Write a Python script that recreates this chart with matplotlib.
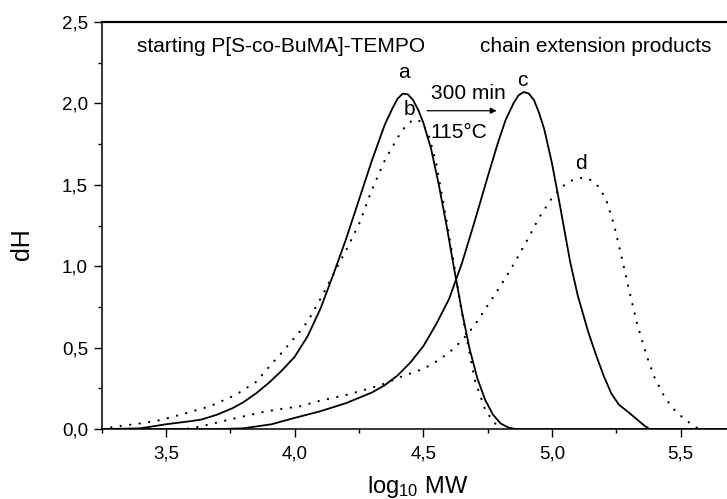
import matplotlib
matplotlib.use("Agg")
import matplotlib.pyplot as plt
from matplotlib.ticker import MultipleLocator, FuncFormatter

plt.rcParams['font.family'] = ['Liberation Sans', 'DejaVu Sans']
plt.rcParams['mathtext.default'] = 'regular'

# curve a: starting P[S-co-BuMA]-TEMPO (solid)
a_x = [3.25, 3.40, 3.50, 3.60, 3.64, 3.70, 3.76, 3.80, 3.85, 3.90, 3.95, 4.00, 4.05,
       4.10, 4.15, 4.20, 4.25, 4.30, 4.35, 4.38, 4.40, 4.42, 4.44, 4.46, 4.48, 4.50,
       4.53, 4.56, 4.59, 4.62, 4.65, 4.68, 4.71, 4.74, 4.77, 4.80, 4.83, 4.86, 5.68]
a_y = [0.0, 0.005, 0.03, 0.05, 0.06, 0.09, 0.13, 0.165, 0.22, 0.285, 0.36, 0.445, 0.57,
       0.74, 0.95, 1.17, 1.41, 1.65, 1.87, 1.97, 2.03, 2.06, 2.055, 2.02, 1.96, 1.88,
       1.72, 1.50, 1.25, 0.98, 0.72, 0.49, 0.31, 0.18, 0.09, 0.035, 0.01, 0.0, 0.0]

# curve b: starting polymer, second trace (dotted)
b_x = [3.25, 3.30, 3.40, 3.475, 3.56, 3.67, 3.77, 3.85, 3.91, 3.95, 4.02, 4.05, 4.10,
       4.15, 4.20, 4.25, 4.30, 4.35, 4.40, 4.43, 4.46, 4.49, 4.52, 4.55, 4.59, 4.62,
       4.65, 4.70, 4.74, 4.77, 4.80]
b_y = [0.0, 0.015, 0.035, 0.055, 0.09, 0.14, 0.21, 0.29, 0.40, 0.47, 0.60, 0.66, 0.80,
       0.95, 1.10, 1.26, 1.47, 1.65, 1.79, 1.86, 1.90, 1.89, 1.81, 1.63, 1.28, 1.00,
       0.71, 0.30, 0.12, 0.05, 0.0]

# curve c: chain extension product (solid)
c_x = [3.25, 3.70, 3.80, 3.91, 3.99, 4.10, 4.20, 4.30, 4.35, 4.40, 4.45, 4.50, 4.55,
       4.60, 4.65, 4.70, 4.75, 4.79, 4.82, 4.85, 4.87, 4.89, 4.91, 4.93, 4.95, 4.97,
       5.00, 5.03, 5.07, 5.10, 5.14, 5.17, 5.20, 5.23, 5.26, 5.30, 5.33, 5.36, 5.38,
       5.68]
c_y = [0.0, 0.0, 0.005, 0.03, 0.065, 0.11, 0.16, 0.225, 0.27, 0.33, 0.41, 0.51, 0.645,
       0.80, 1.02, 1.28, 1.55, 1.76, 1.90, 2.00, 2.05, 2.07, 2.06, 2.02, 1.94, 1.84,
       1.63, 1.38, 1.03, 0.82, 0.60, 0.46, 0.33, 0.22, 0.15, 0.10, 0.06, 0.02, 0.0,
       0.0]

# curve d: chain extension product (dotted)
d_x = [3.25, 3.55, 3.60, 3.67, 3.75, 3.86, 3.95, 4.02, 4.10, 4.20, 4.28, 4.35, 4.41,
       4.50, 4.55, 4.60, 4.65, 4.70, 4.75, 4.80, 4.85, 4.90, 4.95, 5.00, 5.04, 5.08,
       5.12, 5.15, 5.18, 5.21, 5.24, 5.27, 5.30, 5.33, 5.37, 5.40, 5.44, 5.48, 5.52,
       5.56, 5.60, 5.68]
d_y = [0.0, 0.0, 0.005, 0.03, 0.06, 0.10, 0.125, 0.14, 0.175, 0.21, 0.245, 0.28, 0.32,
       0.37, 0.415, 0.47, 0.545, 0.64, 0.76, 0.88, 1.01, 1.15, 1.30, 1.42, 1.49, 1.53,
       1.545, 1.53, 1.49, 1.41, 1.26, 1.06, 0.85, 0.65, 0.44, 0.31, 0.19, 0.11, 0.055,
       0.01, 0.0, 0.0]

x_ticks = [3.5, 4.0, 4.5, 5.0, 5.5]
y_ticks = [0.0, 0.5, 1.0, 1.5, 2.0, 2.5]


def comma(v, pos):
    return ("%.1f" % v).replace(".", ",")


def main():
    fig = plt.figure(figsize=(7.27, 4.99), dpi=100)
    ax = fig.add_axes([0.140, 0.140, 0.860, 0.816])

    ax.plot(a_x, a_y, color="black", lw=1.3)
    ax.plot(b_x, b_y, color="black", lw=1.6, linestyle=(0, (0.1, 4.2)),
            dash_capstyle="round")
    ax.plot(c_x, c_y, color="black", lw=1.3)
    ax.plot(d_x, d_y, color="black", lw=1.6, linestyle=(0, (0.1, 4.2)),
            dash_capstyle="round")

    ax.set_xlim(3.25, 5.68)
    ax.set_ylim(0, 2.5)
    ax.set_xticks(x_ticks)
    ax.set_yticks(y_ticks)
    ax.xaxis.set_minor_locator(MultipleLocator(0.25))
    ax.yaxis.set_minor_locator(MultipleLocator(0.25))
    ax.xaxis.set_major_formatter(FuncFormatter(comma))
    ax.yaxis.set_major_formatter(FuncFormatter(comma))
    ax.tick_params(which="major", direction="out", length=6, width=1.0,
                   labelsize=13.5, pad=4)
    ax.tick_params(which="minor", direction="out", length=3, width=1.0)
    ax.tick_params(axis="x", which="major", pad=6)

    ax.spines["right"].set_visible(False)
    ax.spines["top"].set_linewidth(1.6)
    ax.spines["left"].set_linewidth(1.1)
    ax.spines["bottom"].set_linewidth(1.1)

    fig.text(22 / 727, 1 - 244 / 499, "dH", rotation=90, fontsize=18,
             ha="center", va="center")
    fig.text(418 / 727, 1 - 493 / 499, r"log$_{10}$ MW", fontsize=17,
             ha="center", va="baseline")

    ax.text(3.385, 2.313, "starting P[S-co-BuMA]-TEMPO", fontsize=15,
            va="baseline", ha="left")
    ax.text(5.618, 2.313, "chain extension products", fontsize=15,
            va="baseline", ha="right")
    ax.text(4.424, 2.19, "a", fontsize=15, ha="center", va="center")
    ax.text(4.444, 1.96, "b", fontsize=15, ha="center", va="center")
    ax.text(4.886, 2.14, "c", fontsize=15, ha="center", va="center")
    ax.text(5.114, 1.63, "d", fontsize=15, ha="center", va="center")
    ax.text(4.529, 2.025, "300 min", fontsize=15, ha="left", va="baseline")
    ax.text(4.529, 1.79, "115°C", fontsize=15, ha="left", va="baseline")
    ax.annotate("", xy=(4.785, 1.955), xytext=(4.514, 1.955),
                arrowprops=dict(arrowstyle="-|>", color="black", lw=0.9,
                                mutation_scale=9, shrinkA=0, shrinkB=0))

    fig.savefig("out.png", dpi=100)


if __name__ == "__main__":
    main()
